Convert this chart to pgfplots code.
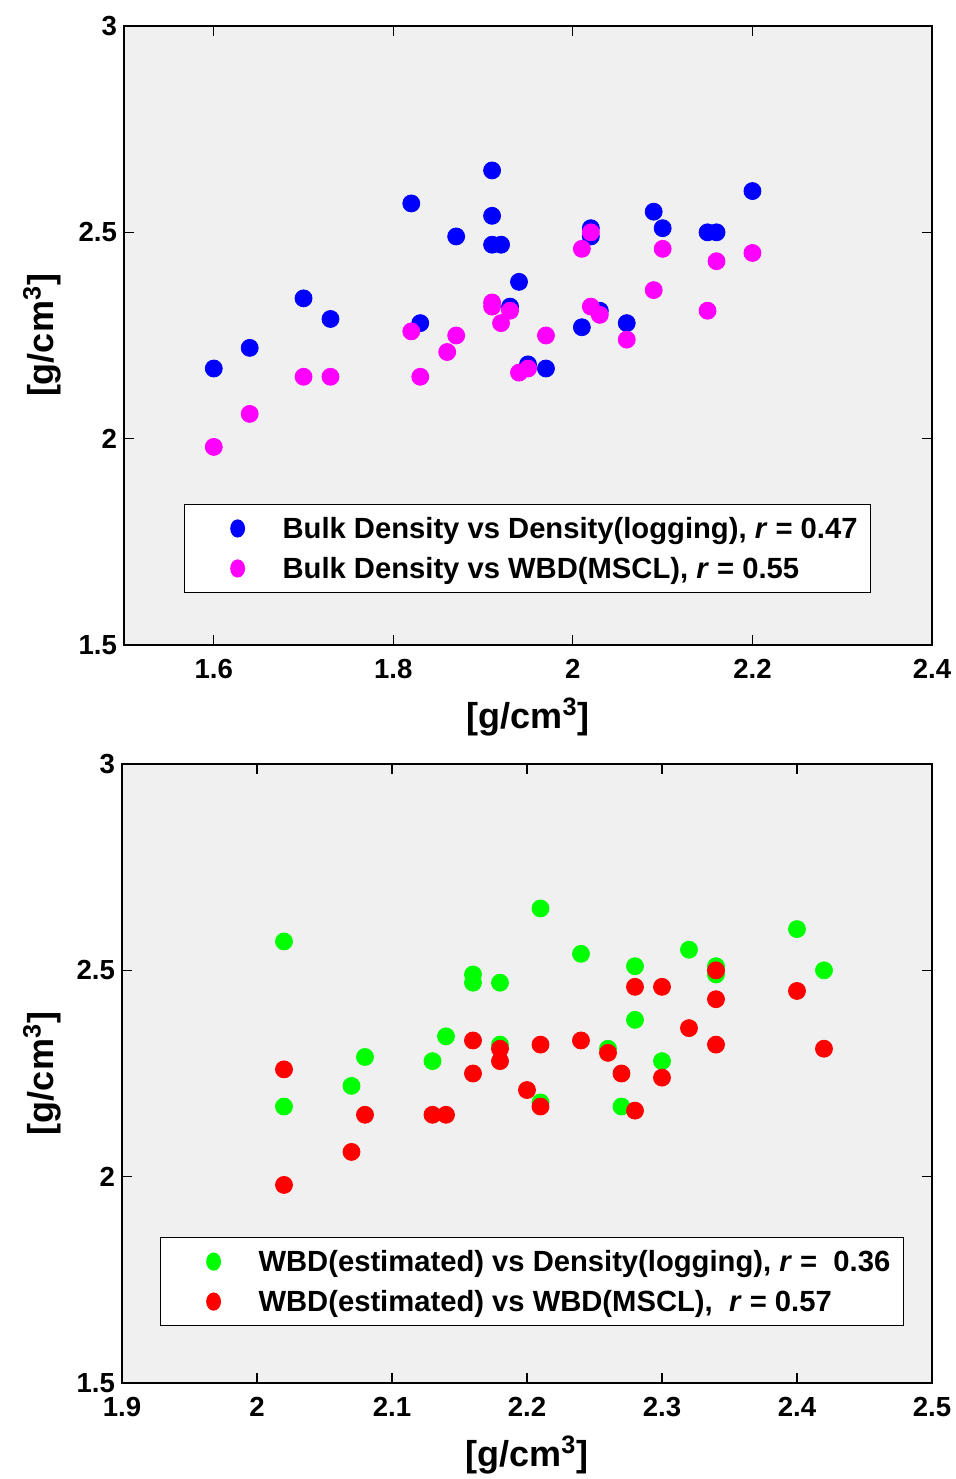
\documentclass[border=0pt]{standalone}
\usepackage{pgfplots}
\pgfplotsset{compat=1.18}
\usepackage{fontspec}
\setmainfont{Liberation Sans}
\definecolor{bg}{RGB}{240,240,240}
\definecolor{mblue}{RGB}{0,0,255}
\definecolor{mmag}{RGB}{255,0,255}
\definecolor{mgreen}{RGB}{0,255,0}
\definecolor{mred}{RGB}{255,0,0}
\pgfplotsset{
 myax/.style={
  scale only axis, width=404pt, height=309.5pt,
  axis background/.style={fill=bg},
  ymin=1.5, ymax=3, ytick={1.5,2,2.5,3}, yticklabels={1.5,2,2.5,3},
  tick align=inside, major tick length=5pt, tick style={black, line width=0.6pt},
  axis line style={black, line width=0.6pt},
  ticklabel style={font=\bfseries\fontsize{13.8}{16}\selectfont},
  xticklabel style={yshift=-3.5pt},
  yticklabel style={xshift=0pt},
  label style={font=\bfseries\fontsize{18}{21}\selectfont},
  xlabel={[g/cm\textsuperscript{3}]}, ylabel={[g/cm\textsuperscript{3}]},
  legend style={draw=black, line width=0.6pt, fill=white, inner xsep=0pt, inner ysep=2pt,
    font=\bfseries\fontsize{14.6}{17}\selectfont,
    nodes={inner xsep=6.5pt, inner ysep=3pt, text height=12.2pt, text depth=1.8pt},
    row sep=0pt},
  legend cell align=left,
  legend image code/.code={\path[draw=none,fill=none] (0pt,-2pt) rectangle (42.5pt,2pt);
    \path[##1, draw=none] plot[only marks, mark=*, mark options={##1, xscale=0.8}] coordinates {(26.5pt,0pt)};},
  every axis plot/.append style={only marks, mark=*, mark size=4.25pt},
 }
}
\begin{document}
\begin{tikzpicture}
\useasboundingbox (0,0) rectangle (478pt,739.5pt);
\fill[white] (0,0) rectangle (478pt,739.5pt);
\begin{axis}[myax, at={(62pt,417pt)}, anchor=south west,
  xmin=1.5, xmax=2.4, xtick={1.6,1.8,2,2.2,2.4}, xticklabels={1.6,1.8,2,2.2,2.4},
  xlabel style={at={(axis description cs:0.5,-0.116)}, anchor=center},
  ylabel style={at={(axis description cs:-0.1015,0.5)}, anchor=center},
  legend style={at={(0.0743,0.228)}, anchor=north west}]
\addplot[color=mblue] table {
1.60 2.17
1.64 2.22
1.70 2.34
1.73 2.29
1.82 2.57
1.83 2.28
1.87 2.49
1.91 2.65
1.91 2.54
1.91 2.47
1.92 2.47
1.93 2.32
1.94 2.38
1.95 2.18
1.97 2.17
2.01 2.27
2.02 2.51
2.02 2.49
2.03 2.31
2.06 2.28
2.09 2.55
2.10 2.51
2.15 2.50
2.16 2.50
2.20 2.60
};
\addlegendentry{Bulk Density vs Density(logging), \textit{r} = 0.47}
\addplot[color=mmag] table {
1.60 1.98
1.64 2.06
1.70 2.15
1.73 2.15
1.82 2.26
1.83 2.15
1.86 2.21
1.87 2.25
1.91 2.33
1.91 2.32
1.92 2.28
1.93 2.31
1.94 2.16
1.95 2.17
1.97 2.25
2.01 2.46
2.02 2.50
2.02 2.32
2.03 2.30
2.06 2.24
2.09 2.36
2.10 2.46
2.15 2.31
2.16 2.43
2.20 2.45
};
\addlegendentry{Bulk Density vs WBD(MSCL), \textit{r} = 0.55}
\end{axis}
\begin{axis}[myax, at={(61pt,48pt)}, anchor=south west, width=405pt,
  xmin=1.9, xmax=2.5, xtick={1.9,2,2.1,2.2,2.3,2.4,2.5}, xticklabels={1.9,2,2.1,2.2,2.3,2.4,2.5},
  xlabel style={at={(axis description cs:0.5,-0.116)}, anchor=center},
  ylabel style={at={(axis description cs:-0.0988,0.5)}, anchor=center},
  legend style={at={(0.0469,0.2359)}, anchor=north west}]
\addplot[color=mgreen] table {
2.02 2.57
2.02 2.17
2.07 2.22
2.08 2.29
2.13 2.28
2.14 2.34
2.16 2.49
2.16 2.47
2.18 2.47
2.18 2.32
2.21 2.65
2.21 2.18
2.24 2.54
2.26 2.31
2.27 2.17
2.28 2.51
2.28 2.38
2.30 2.28
2.32 2.55
2.34 2.51
2.34 2.50
2.34 2.49
2.40 2.60
2.42 2.50
};
\addlegendentry{WBD(estimated) vs Density(logging), \textit{r} =\ \ 0.36}
\addplot[color=mred] table {
2.02 2.26
2.02 1.98
2.07 2.06
2.08 2.15
2.13 2.15
2.14 2.15
2.16 2.33
2.16 2.25
2.18 2.31
2.18 2.28
2.20 2.21
2.21 2.32
2.21 2.17
2.24 2.33
2.26 2.30
2.27 2.25
2.28 2.46
2.28 2.16
2.30 2.46
2.30 2.24
2.32 2.36
2.34 2.50
2.34 2.43
2.34 2.32
2.40 2.45
2.42 2.31
};
\addlegendentry{WBD(estimated) vs WBD(MSCL),\ \ \textit{r} = 0.57}
\end{axis}
\end{tikzpicture}
\end{document}
